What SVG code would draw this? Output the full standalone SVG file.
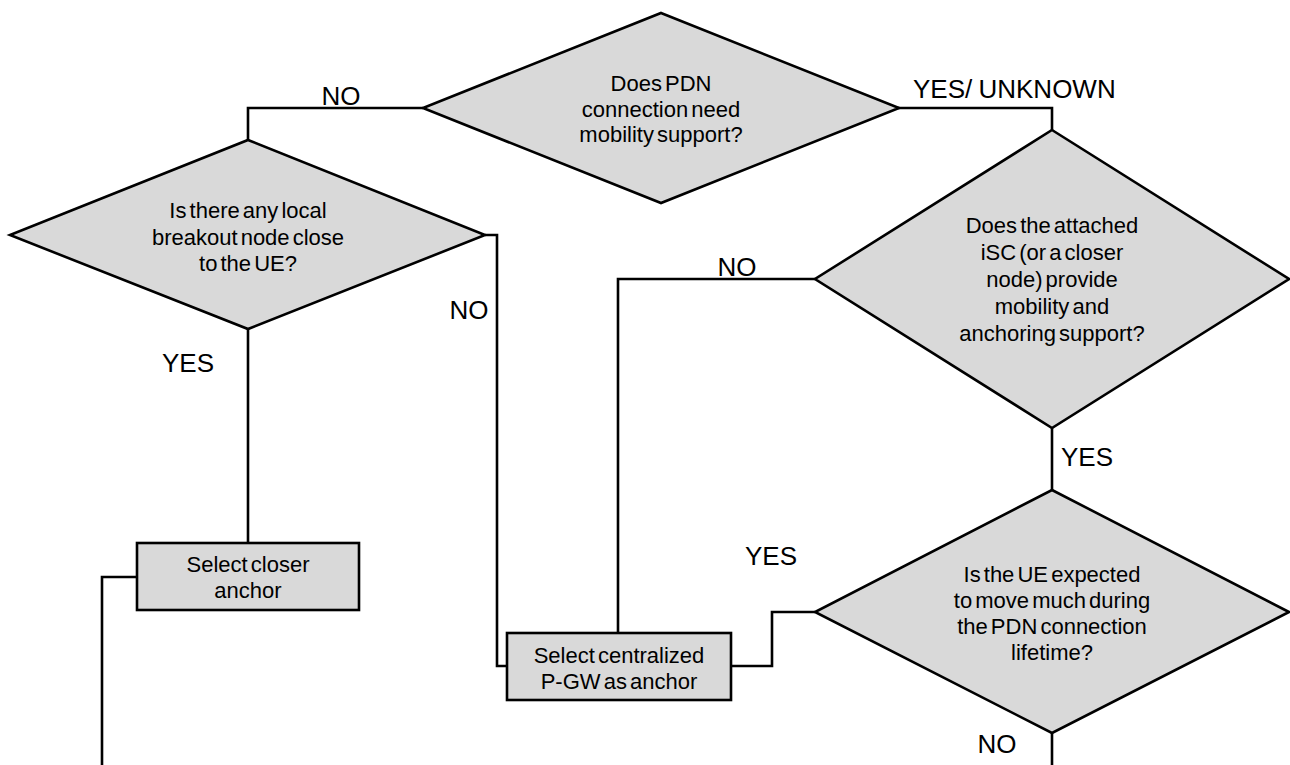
<svg xmlns="http://www.w3.org/2000/svg" width="1290" height="765" viewBox="0 0 1290 765">
  <style>
    .shape { fill: #d9d9d9; stroke: #000; stroke-width: 2.6; stroke-linejoin: miter; }
    .wire { fill: none; stroke: #000; stroke-width: 2.6; }
    .txt { font-family: "Liberation Sans", Arial, sans-serif; font-size: 22px; fill: #000; text-anchor: middle; word-spacing: -3px; }
    .lbl { font-family: "Liberation Sans", Arial, sans-serif; font-size: 26px; fill: #000; }
  </style>
  <rect width="1290" height="765" fill="#fff"/>

  <!-- connectors -->
  <g id="connectors">
    <polyline class="wire" points="423,108 248,108 248,140"/>
    <polyline class="wire" points="898,108 1052,108 1052,130"/>
    <polyline class="wire" points="485,235 497,235 497,666 507,666"/>
    <line class="wire" x1="248" y1="329" x2="248" y2="543"/>
    <polyline class="wire" points="137,577 102,577 102,765"/>
    <polyline class="wire" points="815,279 618,279 618,633"/>
    <line class="wire" x1="1052" y1="428" x2="1052" y2="490"/>
    <polyline class="wire" points="815,612 772,612 772,666 731,666"/>
    <line class="wire" x1="1052" y1="733" x2="1052" y2="765"/>
  </g>

  <!-- connector labels -->
  <g id="labels">
    <text class="lbl" x="341" y="105" text-anchor="middle">NO</text>
    <text class="lbl" x="913" y="98" word-spacing="-1">YES/ UNKNOWN</text>
    <text class="lbl" x="469" y="319" text-anchor="middle">NO</text>
    <text class="lbl" x="737" y="276" text-anchor="middle">NO</text>
    <text class="lbl" x="188" y="372" text-anchor="middle">YES</text>
    <text class="lbl" x="1087" y="466" text-anchor="middle">YES</text>
    <text class="lbl" x="771" y="565" text-anchor="middle">YES</text>
    <text class="lbl" x="997" y="753" text-anchor="middle">NO</text>
  </g>

  <!-- decision: mobility support -->
  <g id="q-mobility">
    <polygon class="shape" points="661,13 899,108 661,203 423,108"/>
    <text class="txt" x="661" y="91">Does PDN</text>
    <text class="txt" x="661" y="117">connection need</text>
    <text class="txt" x="661" y="142">mobility support?</text>
  </g>

  <!-- decision: local breakout -->
  <g id="q-breakout">
    <polygon class="shape" points="248,140 485,235 248,329 10,235"/>
    <text class="txt" x="248" y="218">Is there any local</text>
    <text class="txt" x="248" y="245">breakout node close</text>
    <text class="txt" x="248" y="271">to the UE?</text>
  </g>

  <!-- decision: attached iSC -->
  <g id="q-isc">
    <polygon class="shape" points="1052,130 1289,279 1052,428 815,279"/>
    <text class="txt" x="1052" y="233">Does the attached</text>
    <text class="txt" x="1052" y="260">iSC (or a closer</text>
    <text class="txt" x="1052" y="287">node) provide</text>
    <text class="txt" x="1052" y="314">mobility and</text>
    <text class="txt" x="1052" y="341">anchoring support?</text>
  </g>

  <!-- decision: UE movement -->
  <g id="q-move">
    <polygon class="shape" points="1052,490 1289,612 1052,733 815,612"/>
    <text class="txt" x="1052" y="582">Is the UE expected</text>
    <text class="txt" x="1052" y="608">to move much during</text>
    <text class="txt" x="1052" y="634">the PDN connection</text>
    <text class="txt" x="1052" y="660">lifetime?</text>
  </g>

  <!-- action: closer anchor -->
  <g id="a-closer">
    <rect class="shape" x="137" y="543" width="222" height="67"/>
    <text class="txt" x="248" y="572">Select closer</text>
    <text class="txt" x="248" y="598">anchor</text>
  </g>

  <!-- action: centralized P-GW -->
  <g id="a-central">
    <rect class="shape" x="507" y="633" width="224" height="67"/>
    <text class="txt" x="619" y="663">Select centralized</text>
    <text class="txt" x="619" y="689">P-GW as anchor</text>
  </g>
</svg>
